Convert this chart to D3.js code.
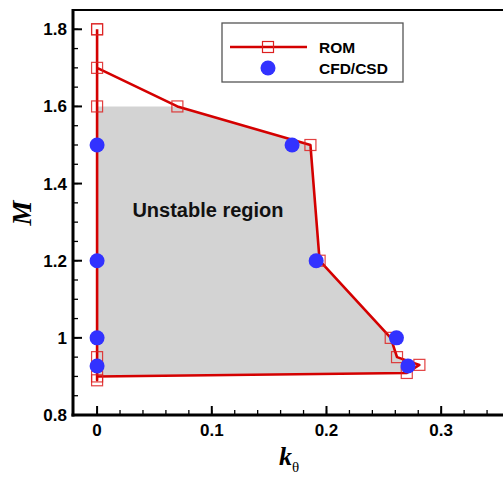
<!DOCTYPE html>
<html>
<head>
<meta charset="utf-8">
<script src="https://cdn.jsdelivr.net/npm/d3@7"></script>
<style>
  body { margin: 0; background: #fff; }
</style>
</head>
<body>
<div id="graphic"></div>
<script>
// ROM stability boundary, in drawing order (k_theta, M)
var romK = [0, 0, 0.07, 0.186, 0.194, 0.256, 0.2615, 0.281, 0.270, 0, 0, 0, 0, 0];
var romM = [1.8, 1.7, 1.6, 1.5, 1.2, 1.0, 0.95, 0.93, 0.909, 0.90, 0.89, 0.95, 1.6, 1.8];

// CFD/CSD points
var cfdK = [0, 0, 0, 0, 0.170, 0.191, 0.261, 0.271];
var cfdM = [1.5, 1.2, 1.0, 0.927, 1.5, 1.2, 1.0, 0.927];

// unstable region outline
var regionK = [0, 0.07, 0.186, 0.194, 0.256, 0.2615, 0.281, 0.270, 0];
var regionM = [1.6, 1.6, 1.5, 1.2, 1.0, 0.95, 0.93, 0.909, 0.90];

var xTicks = [0, 0.1, 0.2, 0.3];
var yTicks = [0.8, 1, 1.2, 1.4, 1.6, 1.8];

var sans = '"Liberation Sans", Arial, sans-serif';
var serif = '"Liberation Serif", "Times New Roman", serif';

var chartW = 503, chartH = 478;
var plotL = 73, plotT = 10, plotB = 415;

var x = d3.scaleLinear().domain([-0.021, 0.36]).range([plotL, plotL + 0.381 * 1147]);
var y = d3.scaleLinear().domain([0.8, 1.85]).range([plotB, plotT]);

var svg = d3.select('#graphic').append('svg')
  .attr('width', chartW)
  .attr('height', chartH)
  .style('background-color', '#fff')
  .style('font-family', sans);

svg.append('clipPath').attr('id', 'plotclip')
  .append('rect')
  .attr('x', plotL).attr('y', plotT)
  .attr('width', chartW - plotL).attr('height', plotB - plotT);

var plot = svg.append('g').attr('clip-path', 'url(#plotclip)');

// grey unstable region
var region = regionK.map((k, i) => [k, regionM[i]]);
plot.append('path')
  .attr('d', d3.line().x(d => x(d[0])).y(d => y(d[1]))(region) + 'Z')
  .attr('fill', '#d3d3d3');

plot.append('text')
  .attr('x', 208)
  .attr('y', 217)
  .attr('text-anchor', 'middle')
  .attr('font-size', '20px')
  .attr('font-weight', 'bold')
  .attr('fill', '#111')
  .text('Unstable region');

// ROM line + squares
var rom = romK.map((k, i) => [k, romM[i]]);
plot.append('path')
  .attr('d', d3.line().x(d => x(d[0])).y(d => y(d[1]))(rom))
  .attr('fill', 'none')
  .attr('stroke', '#d40000')
  .attr('stroke-width', 2.6)
  .attr('stroke-linejoin', 'round');

plot.selectAll('rect.rom')
  .data(rom)
  .join('rect')
  .attr('class', 'rom')
  .attr('x', d => x(d[0]) - 5.5)
  .attr('y', d => y(d[1]) - 5.5)
  .attr('width', 11)
  .attr('height', 11)
  .attr('fill', 'none')
  .attr('stroke', '#dd2020')
  .attr('stroke-opacity', 0.85)
  .attr('stroke-width', 1.2);

// CFD/CSD circles
plot.selectAll('circle.cfd')
  .data(cfdK.map((k, i) => [k, cfdM[i]]))
  .join('circle')
  .attr('class', 'cfd')
  .attr('cx', d => x(d[0]))
  .attr('cy', d => y(d[1]))
  .attr('r', 7.5)
  .attr('fill', '#3232ff');

// minor / major ticks, pointing inward
var xMinor = d3.range(0, 0.361, 0.02);
var yMinor = d3.range(0.8, 1.851, 0.05);

svg.selectAll('line.xminor')
  .data(xMinor)
  .join('line')
  .attr('class', 'xminor')
  .attr('x1', d => x(d)).attr('x2', d => x(d))
  .attr('y1', plotB).attr('y2', plotB - 5)
  .attr('stroke', '#000').attr('stroke-width', 1.3);

svg.selectAll('line.yminor')
  .data(yMinor)
  .join('line')
  .attr('class', 'yminor')
  .attr('x1', plotL).attr('x2', plotL + 5)
  .attr('y1', d => y(d)).attr('y2', d => y(d))
  .attr('stroke', '#000').attr('stroke-width', 1.3);

svg.selectAll('line.xmajor')
  .data(xTicks)
  .join('line')
  .attr('class', 'xmajor')
  .attr('x1', d => x(d)).attr('x2', d => x(d))
  .attr('y1', plotB).attr('y2', plotB - 9)
  .attr('stroke', '#000').attr('stroke-width', 2);

svg.selectAll('line.ymajor')
  .data(yTicks)
  .join('line')
  .attr('class', 'ymajor')
  .attr('x1', plotL).attr('x2', plotL + 9)
  .attr('y1', d => y(d)).attr('y2', d => y(d))
  .attr('stroke', '#000').attr('stroke-width', 2);

// frame
svg.append('line')
  .attr('x1', plotL).attr('x2', chartW)
  .attr('y1', plotT).attr('y2', plotT)
  .attr('stroke', '#000').attr('stroke-width', 2);
svg.append('line')
  .attr('x1', plotL).attr('x2', plotL)
  .attr('y1', plotT - 1).attr('y2', plotB + 1.5)
  .attr('stroke', '#000').attr('stroke-width', 3);
svg.append('line')
  .attr('x1', plotL - 1.5).attr('x2', chartW)
  .attr('y1', plotB).attr('y2', plotB)
  .attr('stroke', '#000').attr('stroke-width', 3);

// tick labels
svg.selectAll('text.xlab')
  .data(xTicks)
  .join('text')
  .attr('class', 'xlab')
  .attr('x', d => x(d))
  .attr('y', 436)
  .attr('text-anchor', 'middle')
  .attr('font-size', '17px')
  .attr('font-weight', 'bold')
  .text(d => d3.format('')(d));

svg.selectAll('text.ylab')
  .data(yTicks)
  .join('text')
  .attr('class', 'ylab')
  .attr('x', 67)
  .attr('y', d => y(d) + 6)
  .attr('text-anchor', 'end')
  .attr('font-size', '17px')
  .attr('font-weight', 'bold')
  .text(d => d3.format('')(d));

// axis titles
svg.append('text')
  .attr('transform', 'translate(31,213) rotate(-90)')
  .attr('text-anchor', 'middle')
  .style('font-family', serif)
  .attr('font-size', '28px')
  .attr('font-weight', 'bold')
  .attr('font-style', 'italic')
  .text('M');

var xt = svg.append('text')
  .attr('x', 279)
  .attr('y', 465)
  .style('font-family', serif);
xt.append('tspan')
  .attr('font-size', '26px')
  .attr('font-weight', 'bold')
  .attr('font-style', 'italic')
  .text('k');
xt.append('tspan')
  .attr('font-size', '15px')
  .attr('dy', 7)
  .text('θ');

// legend
var legend = svg.append('g');
legend.append('rect')
  .attr('x', 222).attr('y', 23)
  .attr('width', 181).attr('height', 59)
  .attr('fill', '#fff')
  .attr('stroke', '#555')
  .attr('stroke-width', 1.3);
legend.append('line')
  .attr('x1', 230).attr('x2', 307)
  .attr('y1', 47).attr('y2', 47)
  .attr('stroke', '#d40000').attr('stroke-width', 2.6);
legend.append('rect')
  .attr('x', 262.5).attr('y', 41.5)
  .attr('width', 11).attr('height', 11)
  .attr('fill', 'none')
  .attr('stroke', '#dd2020')
  .attr('stroke-width', 1.2);
legend.append('circle')
  .attr('cx', 268).attr('cy', 68)
  .attr('r', 7.5)
  .attr('fill', '#3232ff');
legend.selectAll('text.leg')
  .data(['ROM', 'CFD/CSD'])
  .join('text')
  .attr('class', 'leg')
  .attr('x', 319)
  .attr('y', (d, i) => 52.5 + i * 21)
  .attr('font-size', '15.5px')
  .attr('font-weight', 'bold')
  .text(d => d);
</script>
</body>
</html>
